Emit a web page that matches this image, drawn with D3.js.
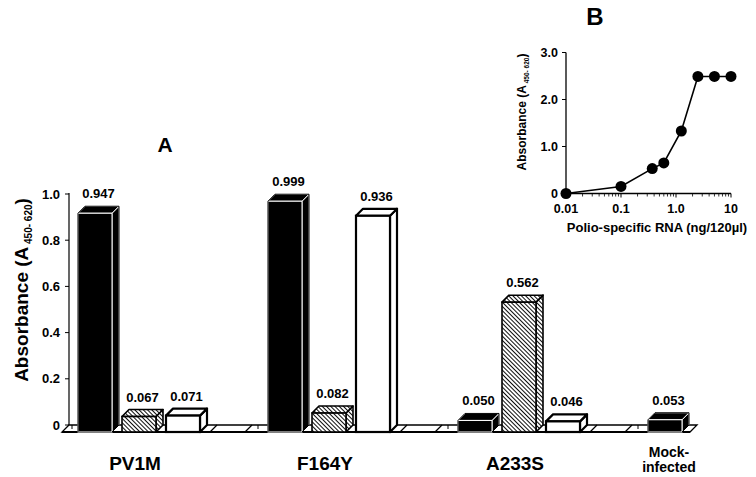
<!DOCTYPE html>
<html><head><meta charset="utf-8">
<script src="https://cdn.jsdelivr.net/npm/d3@7"></script>
<style>
html,body{margin:0;padding:0;background:#fff;}
svg{display:block;font-family:"Liberation Sans",Arial,sans-serif;font-weight:bold;}
</style></head>
<body>
<svg id="chart" width="756" height="477"></svg>
<script>
// ---------- Panel A data ----------
const groups = ["PV1M", "F164Y", "A233S", "Mock-infected"];
const seriesNames = ["solid", "hatched", "open"];
const solidValues = [0.947, 0.999, 0.050, 0.053];
const hatchedValues = [0.067, 0.082, 0.562, null];
const openValues = [0.071, 0.936, 0.046, null];
const yTicksA = [0, 0.2, 0.4, 0.6, 0.8, 1.0];
const yTickLabelsA = ["0", "0.2", "0.4", "0.6", "0.8", "1.0"];

// ---------- Panel B data ----------
const rnaConc = [0.01, 0.1, 0.37, 0.6, 1.25, 2.5, 5, 10];
const rnaAbs = [0, 0.15, 0.53, 0.65, 1.33, 2.49, 2.49, 2.49];
const xTicksB = [0.01, 0.1, 1, 10];
const xTickLabelsB = ["0.01", "0.1", "1.0", "10"];
const yTicksB = [0, 1, 2, 3];
const yTickLabelsB = ["0", "1.0", "2.0", "3.0"];

const svg = d3.select("#chart");
const defs = svg.append("defs");
const pat = defs.append("pattern").attr("id", "hatch")
  .attr("patternUnits", "userSpaceOnUse").attr("width", 3).attr("height", 3)
  .attr("patternTransform", "rotate(-45)");
pat.append("rect").attr("width", 3).attr("height", 3).attr("fill", "#fff");
pat.append("line").attr("x1", 0).attr("y1", 0).attr("x2", 0).attr("y2", 3)
  .attr("stroke", "#000").attr("stroke-width", 1.9);

// ================= PANEL A =================
const dx = 7, dd = 7;              // 3D depth offsets
const floorFront = 432;            // front bottom line
const axisX = 69;
const yBack = d3.scaleLinear().domain([0, 1]).range([floorFront - dd, floorFront - dd - 231]);
const yFront = v => yBack(v) + dd;

const xGroup = d3.scaleBand().domain(groups).range([78, 78 + 4 * 190]).paddingInner(0).paddingOuter(0);
const xSeries = d3.scaleBand().domain([0, 1, 2]).range([0, 122]).paddingInner(10 / 44).paddingOuter(0);
const bw = xSeries.bandwidth();

const gA = svg.append("g");

// floor
const floorLeft = axisX - dx, floorRight = 690;
gA.append("path")
  .attr("d", `M${floorLeft},${floorFront} L${floorRight},${floorFront} L${floorRight + dx},${floorFront - dd} L${axisX},${floorFront - dd} Z`)
  .attr("fill", "#fff").attr("stroke", "#000").attr("stroke-width", 1.3);
gA.append("line").attr("x1", floorLeft).attr("x2", floorRight).attr("y1", floorFront).attr("y2", floorFront)
  .attr("stroke", "#000").attr("stroke-width", 2);
// floor slashes and ticks between groups
groups.slice(0, 3).forEach(g => {
  const s = xGroup(g);
  [132, 167].forEach(off => {
    gA.append("line").attr("x1", s + off).attr("y1", floorFront).attr("x2", s + off + dx).attr("y2", floorFront - dd)
      .attr("stroke", "#000").attr("stroke-width", 1.3);
  });
  gA.append("line").attr("x1", s + 180).attr("x2", s + 180).attr("y1", floorFront - dd).attr("y2", floorFront - dd + 4)
    .attr("stroke", "#000").attr("stroke-width", 1);
});
gA.append("line").attr("x1", axisX + 3).attr("x2", axisX + 3).attr("y1", floorFront - dd).attr("y2", floorFront - dd + 4)
  .attr("stroke", "#000").attr("stroke-width", 1);

// y axis
gA.append("line").attr("x1", axisX).attr("x2", axisX).attr("y1", yBack(1) - 1).attr("y2", yBack(0))
  .attr("stroke", "#000").attr("stroke-width", 1.2);
yTicksA.forEach((t, i) => {
  gA.append("line").attr("x1", axisX - 4).attr("x2", axisX).attr("y1", yBack(t)).attr("y2", yBack(t))
    .attr("stroke", "#000").attr("stroke-width", 1);
  gA.append("text").attr("x", axisX - 9).attr("y", yBack(t) + 4.5).attr("text-anchor", "end")
    .attr("font-size", 13).text(yTickLabelsA[i]);
});

// axis title
const tA = gA.append("text").attr("transform", "translate(28,290) rotate(-90)")
  .attr("text-anchor", "middle").attr("font-size", 19);
tA.append("tspan").text("Absorbance (A");
tA.append("tspan").attr("font-size", 10).attr("dy", 4).text(" 450- 620");
tA.append("tspan").attr("dy", -4).text(")");

// bars
const allSeries = [solidValues, hatchedValues, openValues];
const bars = [];
groups.forEach((g, gi) => {
  allSeries.forEach((arr, si) => {
    const v = arr[gi];
    if (v === null || v === undefined) return;
    bars.push({ g, si, v, x: xGroup(g) + xSeries(si) });
  });
});

const fmt = d3.format(".3f");
bars.forEach(b => {
  const yt = yFront(b.v), yb = floorFront, x = b.x;
  const bg = gA.append("g");
  let fill, stroke, sw;
  if (b.si === 0) { fill = "#000"; stroke = "#fff"; sw = 1; }
  else if (b.si === 1) { fill = "url(#hatch)"; stroke = "#000"; sw = 1.6; }
  else { fill = "#fff"; stroke = "#000"; sw = 2.2; }
  bg.append("path").attr("d", `M${x + bw},${yt} L${x + bw + dx},${yt - dd} L${x + bw + dx},${yb - dd} L${x + bw},${yb} Z`)
    .attr("fill", fill).attr("stroke", stroke).attr("stroke-width", sw).attr("stroke-linejoin", "round");
  bg.append("path").attr("d", `M${x},${yt} L${x + bw},${yt} L${x + bw + dx},${yt - dd} L${x + dx},${yt - dd} Z`)
    .attr("fill", fill).attr("stroke", stroke).attr("stroke-width", sw).attr("stroke-linejoin", "round");
  bg.append("rect").attr("x", x).attr("y", yt).attr("width", bw).attr("height", yb - yt)
    .attr("fill", fill).attr("stroke", stroke).attr("stroke-width", sw);
  if (b.si === 0) {
    bg.append("path").attr("d", `M${x},${yb} L${x},${yt} L${x + dx},${yt - dd} L${x + bw + dx},${yt - dd} L${x + bw + dx},${yb - dd} L${x + bw},${yb}`)
      .attr("fill", "none").attr("stroke", "#000").attr("stroke-width", 1);
  }
  gA.append("text").attr("x", x + (bw + dx) / 2).attr("y", yt - dd - 8)
    .attr("text-anchor", "middle").attr("font-size", 13).text(fmt(b.v));
});

// category labels
groups.forEach((g, gi) => {
  const n = allSeries.filter(a => a[gi] !== null).length;
  const cx = xGroup(g) + (n === 3 ? 57 : 21);
  if (g === "Mock-infected") {
    const t = gA.append("text").attr("x", cx).attr("y", 457).attr("text-anchor", "middle").attr("font-size", 14);
    t.append("tspan").attr("x", cx).text("Mock-");
    t.append("tspan").attr("x", cx).attr("dy", 15).text("infected");
  } else {
    gA.append("text").attr("x", cx).attr("y", 470).attr("text-anchor", "middle").attr("font-size", 19).text(g);
  }
});

gA.append("text").attr("x", 165).attr("y", 152).attr("text-anchor", "middle").attr("font-size", 21).text("A");

// ================= PANEL B =================
const gB = svg.append("g");
const xB = d3.scaleLog().domain([0.01, 10]).range([566, 731]);
const yB = d3.scaleLinear().domain([0, 3]).range([193.5, 52.5]);

gB.append("line").attr("x1", xB(0.01)).attr("x2", xB(0.01)).attr("y1", yB(3)).attr("y2", yB(0))
  .attr("stroke", "#000").attr("stroke-width", 1.3);
gB.append("line").attr("x1", xB(0.01)).attr("x2", xB(10)).attr("y1", yB(0)).attr("y2", yB(0))
  .attr("stroke", "#000").attr("stroke-width", 1.3);
yTicksB.forEach((t, i) => {
  gB.append("line").attr("x1", xB(0.01) - 4).attr("x2", xB(0.01)).attr("y1", yB(t)).attr("y2", yB(t))
    .attr("stroke", "#000").attr("stroke-width", 1);
  gB.append("text").attr("x", xB(0.01) - 8).attr("y", yB(t) + 4.5).attr("text-anchor", "end")
    .attr("font-size", 12.5).text(yTickLabelsB[i]);
});
const minor = [];
[0.01, 0.1, 1].forEach(dec => { for (let k = 2; k <= 9; k++) minor.push(dec * k); });
minor.forEach(m => {
  gB.append("line").attr("x1", xB(m)).attr("x2", xB(m)).attr("y1", yB(0)).attr("y2", yB(0) + 3)
    .attr("stroke", "#000").attr("stroke-width", 0.8);
});
xTicksB.forEach((t, i) => {
  gB.append("line").attr("x1", xB(t)).attr("x2", xB(t)).attr("y1", yB(0)).attr("y2", yB(0) + 4)
    .attr("stroke", "#000").attr("stroke-width", 1);
  gB.append("text").attr("x", xB(t)).attr("y", 213).attr("text-anchor", "middle")
    .attr("font-size", 12.5).text(xTickLabelsB[i]);
});

const pts = rnaConc.map((c, i) => [c, rnaAbs[i]]);
gB.append("path").datum(pts)
  .attr("d", d3.line().x(d => xB(d[0])).y(d => yB(d[1])))
  .attr("fill", "none").attr("stroke", "#000").attr("stroke-width", 1.6);
gB.selectAll("circle.pt").data(pts).join("circle").attr("class", "pt")
  .attr("cx", d => xB(d[0])).attr("cy", d => yB(d[1])).attr("r", 5.5).attr("fill", "#000");

const tB = gB.append("text").attr("transform", "translate(526,112) rotate(-90)")
  .attr("text-anchor", "middle").attr("font-size", 12);
tB.append("tspan").text("Absorbance (A");
tB.append("tspan").attr("font-size", 6.5).attr("dy", 2.5).text(" 450- 620");
tB.append("tspan").attr("dy", -2.5).text(")");

gB.append("text").attr("x", 657).attr("y", 232).attr("text-anchor", "middle").attr("font-size", 13)
  .text("Polio-specific RNA (ng/120\u00b5l)");

gB.append("text").attr("x", 595).attr("y", 25).attr("text-anchor", "middle").attr("font-size", 24).text("B");
</script>
</body></html>
